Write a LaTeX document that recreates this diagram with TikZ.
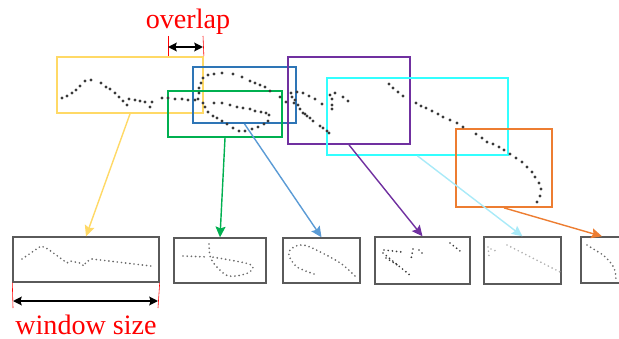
\documentclass[tikz,border=0pt]{standalone}
\usepackage{fontspec}
\setmainfont{Liberation Serif}
\usetikzlibrary{arrows.meta, fit}

\definecolor{winyellow}{HTML}{FFD966}
\definecolor{winblue}{HTML}{2E75B6}
\definecolor{arrblue}{HTML}{5B9BD5}
\definecolor{wingreen}{HTML}{00B050}
\definecolor{winpurple}{HTML}{7030A0}
\definecolor{wincyan}{HTML}{33FFFF}
\definecolor{arrcyan}{HTML}{A9EAF8}
\definecolor{winorange}{HTML}{ED7D31}
\definecolor{dotgray}{HTML}{3A3A3A}
\definecolor{tracegray}{HTML}{6A6A6A}
\definecolor{boxgray}{HTML}{5A5A5A}

\begin{document}
\begin{tikzpicture}[x=0.03cm, y=-0.03cm,
    win/.style={rectangle, draw=#1, line width=1.5pt, inner sep=0pt},
    sub/.style={rectangle, draw=boxgray, line width=1.2pt, inner sep=0pt},
    link/.style={draw=#1, line width=1.2pt,
                 -{Stealth[length=3.2mm, width=3mm, inset=0.5mm]}},
    dimline/.style={line width=1.8pt,
                    {Stealth[length=2.6mm, width=2.6mm, inset=0.4mm]}-{Stealth[length=2.6mm, width=2.6mm, inset=0.4mm]}},
    tick/.style={draw=red, line width=0.5pt},
    lbl/.style={text=red, font=\fontsize{24}{28}\selectfont, inner sep=0pt},
    pt/.style={fill=dotgray},
    trace/.style={draw=#1, line width=1.6pt, line cap=round,
                  dash pattern=on 0pt off 3.6pt},
    trace/.default=tracegray,
]
  \useasboundingbox (0,0) rectangle (619,339);

  % ---- sliding windows ----
  \node[win=winyellow, fit={(57,57) (203,113)}]  (wy) {};
  \node[win=winblue,   fit={(193,67) (296,123)}] (wb) {};
  \node[win=wingreen,  fit={(168,91) (282,137)}] (wg) {};
  \node[win=winpurple, fit={(288,57) (410,144)}] (wp) {};
  \node[win=wincyan,   fit={(327,78) (508,155)}] (wc) {};
  \node[win=winorange, fit={(456,129) (552,207)}] (wo) {};

  % ---- trajectory points ----
  \foreach \x/\y in {62/98, 67/96, 72/93, 76/90, 80/86, 85/81, 91/80,
      101/83, 106/87, 110/89, 115/93, 119/97, 123/101, 127/105, 129/99,
      135/100, 140/101, 145/102, 150/107, 152/102, 162/98, 168/98, 175/99,
      182/99, 188/100, 195/100,
      198/99, 199/93, 199/88, 201/83, 203/78, 208/75, 214/74, 222/73,
      233/74, 242/77, 250/81, 255/83, 260/85, 265/87, 270/91, 280/97,
      286/102,
      203/103, 205/107, 208/112, 213/116, 217/118, 222/121, 227/124,
      233/128, 239/131, 245/131, 252/129, 258/127, 264/124, 268/121,
      269/115, 266/113, 261/112, 255/111, 250/109, 243/108, 237/107,
      230/105, 222/103, 214/103,
      291/93, 292/97, 295/100, 294/103, 297/92, 298/105, 300/109, 303/113,
      303/93, 305/114, 307/116, 309/96, 310/118, 313/121, 315/99, 320/126,
      322/104, 323/128, 327/131, 329/133, 330/95, 332/99, 332/105, 332/109,
      335/93, 343/97, 348/101,
      389/84, 393/88, 398/92, 403/96, 416/103, 421/106, 426/108, 432/111,
      438/114, 443/117, 450/120, 457/123, 463/127, 476/134, 482/138,
      487/142, 493/144, 499/147, 504/150, 510/154, 516/158, 522/162,
      527/167, 532/172, 535/177, 539/183, 541/189, 540/196, 537/202}
    \fill[pt] (\x,\y) circle (1.3pt);

  % ---- window contents ----
  \node[sub, fit={(13,237) (159,282)}]  (s1) {};
  \node[sub, fit={(174,238) (266,283)}] (s2) {};
  \node[sub, fit={(283,238) (360,283)}] (s3) {};
  \node[sub, fit={(375,237) (470,284)}] (s4) {};
  \node[sub, fit={(484,237) (561,284)}] (s5) {};
  \node[sub, fit={(581,237) (623,283)}] (s6) {};

  \draw[trace] (22,259) -- (41,246) -- (48,249) -- (67,263) -- (70,261)
    -- (80,263) -- (84,266) -- (86,262) -- (92,259) -- (151,266);

  \draw[trace] (183,256) -- (208,257);
  \draw[trace] plot[smooth] coordinates {(209,244) (210,256) (215,265)
    (226,275) (236,276) (248,273) (253,268) (249,264) (230,260) (212,257)};

  \draw[trace] plot[smooth] coordinates {(314,274) (297,267) (289,256)
    (290,250) (296,246) (302,245) (310,247) (330,257) (343,265) (355,276)};

  \draw[trace=dotgray] (384,250) -- (402,252);
  \draw[trace=dotgray] (383,253) -- (411,276);
  \draw[trace=dotgray] (386,258) -- (399,266);
  \draw[trace=dotgray] (413,249) -- (411,259);
  \draw[trace=dotgray] (419,250) -- (423,254);
  \draw[trace=dotgray] (450,243) -- (460,251);

  \draw[trace=gray!60] (488,247) -- (489,256);
  \draw[trace=gray!60] (491,249) -- (496,251);
  \draw[trace=gray!60] (507,245) -- (560,272);

  \draw[trace] plot[smooth] coordinates {(587,245) (595,250) (603,255)
    (610,262) (614,268) (616,277) (615,282)};

  % ---- window -> content ----
  \draw[link=winyellow] (wy.south) -- (s1.north);
  \draw[link=wingreen]  (wg.south) -- (s2.north);
  \draw[link=arrblue]   (wb.south) -- (s3.north);
  \draw[link=winpurple] (wp.south) -- (s4.north);
  \draw[link=arrcyan]   (wc.south) -- (s5.north);
  \draw[link=winorange] (wo.south) -- (s6.north);

  % ---- overlap ----
  \coordinate (ovl) at (168,36);
  \coordinate (ovr) at (203,36);
  \draw[tick] (ovl) -- (ovl |- wy.north);
  \draw[tick] (ovr) -- (wy.north east);
  \draw[dimline] ([yshift=-11*0.03cm]ovl) -- ([yshift=-11*0.03cm]ovr);
  \node[lbl, anchor=base] (ovtxt) at (188,29) {overlap};

  % ---- window size ----
  \coordinate (wsl) at (13,308);
  \coordinate (wsr) at (158,308);
  \draw[tick] (s1.south west) -- (wsl);
  \draw[tick] (s1.south east) -- (wsr);
  \draw[dimline] ([yshift=7*0.03cm]wsl) -- ([yshift=7*0.03cm]wsr);
  \node[lbl, anchor=base] (wstxt) at (86,334) {window size};
\end{tikzpicture}
\end{document}
